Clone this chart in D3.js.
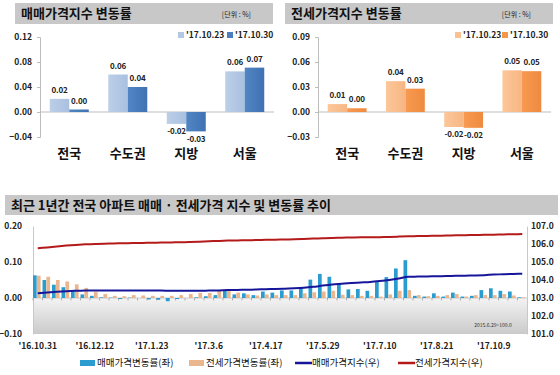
<!DOCTYPE html>
<html><head><meta charset="utf-8">
<script src="https://cdn.jsdelivr.net/npm/d3@7"></script>
<style>
body{margin:0;background:#fff;}
svg{display:block;font-family:"Noto Sans CJK KR","Noto Sans",sans-serif;}
</style></head><body>
<svg id="c" width="560" height="375"></svg>
<script>
// ---------- data: top panels ----------
const regions = ["전국","수도권","지방","서울"];
const seriesNames = ["'17.10.23","'17.10.30"];
const saleRate1023 = [0.021, 0.060, -0.019, 0.065];
const saleRate1030 = [0.004, 0.040, -0.031, 0.071];
const saleLabel1023 = ["0.02","0.06","-0.02","0.06"];
const saleLabel1030 = ["0.00","0.04","-0.03","0.07"];
const jeonseRate1023 = [0.0095, 0.037, -0.018, 0.050];
const jeonseRate1030 = [0.0045, 0.028, -0.019, 0.049];
const jeonseLabel1023 = ["0.01","0.04","-0.02","0.05"];
const jeonseLabel1030 = ["0.00","0.03","-0.02","0.05"];
const saleTicks = [-0.04, 0, 0.04, 0.08, 0.12];
const jeonseTicks = [-0.03, 0, 0.03, 0.06, 0.09];

// ---------- data: bottom panel ----------
const weeks = ["16.10.31","16.11.7","16.11.14","16.11.21","16.11.28","16.12.5","16.12.12","16.12.19","16.12.26",
 "17.1.2","17.1.9","17.1.16","17.1.23","17.1.30","17.2.6","17.2.13","17.2.20","17.2.27","17.3.6","17.3.13","17.3.20",
 "17.3.27","17.4.3","17.4.10","17.4.17","17.4.24","17.5.1","17.5.8","17.5.15","17.5.22","17.5.29","17.6.5","17.6.12",
 "17.6.19","17.6.26","17.7.3","17.7.10","17.7.17","17.7.24","17.7.31","17.8.7","17.8.14","17.8.21","17.8.28","17.9.4",
 "17.9.11","17.9.18","17.9.25","17.10.9","17.10.16","17.10.23","17.10.30"];
const weekTickLabels = ["16.10.31","16.12.12","17.1.23","17.3.6","17.4.17","17.5.29","17.7.10","17.8.21","17.10.9"];
const saleChange = [0.063,0.050,0.037,0.030,0.021,0.010,0.006,0.002,0.001,-0.003,0.001,0.000,-0.004,-0.005,-0.009,-0.003,
 0.000,0.002,0.005,0.008,0.020,0.010,0.013,0.008,0.018,0.015,0.021,0.021,0.029,0.051,0.067,0.059,0.040,0.024,0.025,0.020,
 0.045,0.058,0.082,0.105,0.006,0.004,0.013,0.004,0.015,0.004,0.006,0.022,0.027,0.020,0.018,0.002];
const jeonseChange = [0.062,0.059,0.050,0.046,0.038,0.028,0.017,0.011,0.006,0.005,0.008,0.007,0.006,0.006,0.006,0.008,
 0.011,0.014,0.014,0.020,0.020,0.015,0.010,0.007,0.010,0.008,0.008,0.008,0.013,0.016,0.018,0.020,0.009,0.008,0.006,0.006,
 0.004,0.010,0.020,0.022,0.008,0.005,0.006,0.008,0.011,0.004,0.008,0.008,0.008,0.011,0.007,0.002];
const saleIndex = [103.26,103.31,103.35,103.38,103.40,103.41,103.42,103.42,103.42,103.42,103.42,103.42,103.41,103.41,
 103.40,103.40,103.40,103.40,103.41,103.42,103.44,103.45,103.46,103.47,103.49,103.50,103.52,103.54,103.57,103.62,103.69,
 103.75,103.79,103.83,103.86,103.89,103.94,104.00,104.08,104.18,104.19,104.20,104.21,104.22,104.23,104.24,104.25,104.27,
 104.30,104.32,104.34,104.35];
const jeonseIndex = [105.76,105.81,105.86,105.91,105.95,105.98,106.00,106.02,106.03,106.04,106.05,106.06,106.07,106.08,
 106.09,106.10,106.11,106.13,106.15,106.17,106.19,106.20,106.21,106.22,106.23,106.24,106.25,106.26,106.28,106.30,106.32,
 106.34,106.35,106.36,106.37,106.37,106.38,106.39,106.41,106.43,106.44,106.45,106.46,106.47,106.48,106.49,106.50,106.51,
 106.52,106.53,106.54,106.55];
const leftTicks = [-0.10, 0.00, 0.10, 0.20];
const rightTicks = [101,102,103,104,105,106,107];
const bottomLegend = ["매매가격변동률(좌)","전세가격변동률(좌)","매매가격지수(우)","전세가격지수(우)"];

const svg = d3.select("#c");
const defs = svg.append("defs");

function titleBox(x, y, w, h, text, unit, fs) {
  svg.append("rect").attr("x", x).attr("y", y).attr("width", w).attr("height", h).attr("fill", "#c8c8c8");
  svg.append("text").attr("x", x + 6).attr("y", y + h/2).attr("dy", "0.36em")
    .attr("font-size", fs).attr("font-weight", "bold").attr("fill", "#111").text(text);
  if (unit) svg.append("text").attr("x", x + w - 22).attr("y", y + h/2 + 1).attr("dy", "0.36em")
    .attr("text-anchor", "end").attr("font-size", 7).attr("fill", "#222").text(unit);
}

function panel(o) {
  const x = d3.scaleBand().domain(regions).range(o.xr).paddingInner(0.333).paddingOuter(0.1667);
  const xs = d3.scaleBand().domain([0, 1]).range([0, x.bandwidth()]);
  const y = d3.scaleLinear().domain([o.ticks[0], o.ticks[o.ticks.length - 1]]).range([137, 37]);
  const g = svg.append("g");
  const ax = g.append("g").attr("transform", `translate(${o.xr[0]},0)`)
    .call(d3.axisLeft(y).tickValues(o.ticks).tickSize(3).tickFormat(d3.format(".2f")));
  ax.select(".domain").attr("stroke", "#bdbdbd");
  ax.selectAll(".tick line").attr("stroke", "#bdbdbd");
  ax.selectAll(".tick text").attr("x", -8).attr("font-size", 8.5).attr("font-weight", "bold")
    .attr("fill", "#222").attr("font-family", "'Noto Sans CJK KR',sans-serif");
  g.append("line").attr("x1", o.xr[0]).attr("x2", o.xr[1]).attr("y1", y(0)).attr("y2", y(0)).attr("stroke", "#bdbdbd");
  const sets = [o.a, o.b];
  const labs = [o.la, o.lb];
  sets.forEach((vals, s) => {
    g.selectAll(null).data(vals).enter().append("rect")
      .attr("x", (d, i) => x(regions[i]) + xs(s))
      .attr("width", xs.bandwidth())
      .attr("y", d => y(Math.max(0, d)))
      .attr("height", d => Math.abs(y(d) - y(0)))
      .attr("fill", `url(#${o.grad[s]})`);
    g.selectAll(null).data(vals).enter().append("text")
      .attr("x", (d, i) => x(regions[i]) + xs(s) + xs.bandwidth()/2)
      .attr("y", (d, i) => d >= 0 ? y(d) - 6 : y(d) + (s === 0 ? 10 : 10.5))
      .attr("text-anchor", "middle").attr("font-size", 8).attr("letter-spacing", -0.2)
      .attr("font-weight", "bold").attr("fill", "#222")
      .text((d, i) => labs[s][i]);
  });
  g.selectAll(null).data(regions).enter().append("text")
    .attr("x", d => x(d) + x.bandwidth()/2).attr("y", 153).attr("dy", "0.36em")
    .attr("text-anchor", "middle").attr("font-size", 13).attr("font-weight", "bold").attr("fill", "#111")
    .text(d => d);
  seriesNames.forEach((n, i) => {
    const lx = o.legX[i];
    g.append("rect").attr("x", lx).attr("y", 32).attr("width", 6).attr("height", 6).attr("fill", o.solid[i]);
    g.append("text").attr("x", lx + 8).attr("y", 35).attr("dy", "0.36em").attr("font-size", 8.5)
      .attr("font-weight", "bold").attr("fill", "#222").text(n);
  });
}

function grad(id, c1, c2) {
  const lg = defs.append("linearGradient").attr("id", id).attr("x1", 0).attr("x2", 1).attr("y1", 0).attr("y2", 0);
  lg.append("stop").attr("offset", "0%").attr("stop-color", c1);
  lg.append("stop").attr("offset", "100%").attr("stop-color", c2);
}
grad("gSaleA", "#bccfe7", "#a9c0e0");
grad("gSaleB", "#5185c3", "#3f72b3");
grad("gJA", "#fcc79a", "#f7b683");
grad("gJB", "#f89a52", "#ee8a3e");

titleBox(15, 3, 258, 21, "매매가격지수 변동률", "[단위 : %]", 13);
titleBox(285, 3, 268, 21, "전세가격지수 변동률", "[단위 : %]", 13);

panel({xr: [40, 274], ticks: saleTicks, a: saleRate1023, b: saleRate1030, la: saleLabel1023, lb: saleLabel1030,
  grad: ["gSaleA", "gSaleB"], solid: ["#b4c8e4", "#4a7ebf"], legX: [178, 227]});
panel({xr: [318, 551], ticks: jeonseTicks, a: jeonseRate1023, b: jeonseRate1030, la: jeonseLabel1023, lb: jeonseLabel1030,
  grad: ["gJA", "gJB"], solid: ["#fac090", "#f79646"], legX: [455, 502]});

// ---------- bottom panel ----------
titleBox(5, 195, 553, 20, "최근 1년간 전국 아파트 매매 · 전세가격 지수 및 변동률 추이", null, 13);

const X0 = 33, X1 = 527;
const xb = d3.scaleBand().domain(weeks).range([X0, X1]).padding(0);
const xi = d3.scaleBand().domain(["s", "j"]).range([0, xb.bandwidth() * 0.8]).paddingInner(0.05);
const yl = d3.scaleLinear().domain([-0.10, 0.20]).range([334, 226]);
const yr = d3.scaleLinear().domain([101, 107]).range([334, 226]);

const bg = defs.append("linearGradient").attr("id", "gBg").attr("x1", 0).attr("x2", 0).attr("y1", 0).attr("y2", 1);
bg.append("stop").attr("offset", "0%").attr("stop-color", "#f3f3f3");
bg.append("stop").attr("offset", "100%").attr("stop-color", "#cacaca");
svg.append("rect").attr("x", X0).attr("y", yl(0)).attr("width", X1 - X0).attr("height", yl(-0.10) - yl(0)).attr("fill", "url(#gBg)");

const gl = svg.append("g").attr("transform", `translate(${X0},0)`)
  .call(d3.axisLeft(yl).tickValues(leftTicks).tickSize(0).tickFormat(d3.format(".2f")));
gl.select(".domain").attr("stroke", "#c8c8c8");
gl.selectAll(".tick text").attr("x", -11).attr("font-size", 8.5).attr("font-weight", "bold").attr("fill", "#222")
  .attr("font-family", "'Noto Sans CJK KR',sans-serif");
const gr = svg.append("g").attr("transform", `translate(${X1},0)`)
  .call(d3.axisRight(yr).tickValues(rightTicks).tickSize(0).tickFormat(d3.format(".1f")));
gr.select(".domain").attr("stroke", "#c8c8c8");
gr.selectAll(".tick text").attr("x", 4).attr("font-size", 8.5).attr("font-weight", "bold").attr("fill", "#222")
  .attr("font-family", "'Noto Sans CJK KR',sans-serif");

svg.append("line").attr("x1", X0).attr("x2", X1).attr("y1", yl(0)).attr("y2", yl(0)).attr("stroke", "#c8c8c8");
svg.selectAll(null).data(weeks).enter().append("line")
  .attr("x1", d => xb(d)).attr("x2", d => xb(d)).attr("y1", yl(0)).attr("y2", yl(0) + 2.5).attr("stroke", "#b0b0b0");

svg.selectAll(null).data(saleChange).enter().append("rect")
  .attr("x", (d, i) => xb(weeks[i]) + xi("s")).attr("width", xi.bandwidth())
  .attr("y", d => yl(Math.max(0, d))).attr("height", d => Math.abs(yl(d) - yl(0))).attr("fill", "#2a9ccf");
svg.selectAll(null).data(jeonseChange).enter().append("rect")
  .attr("x", (d, i) => xb(weeks[i]) + xi("j")).attr("width", xi.bandwidth())
  .attr("y", d => yl(Math.max(0, d))).attr("height", d => Math.abs(yl(d) - yl(0))).attr("fill", "#eab68d");

const lineGen = arr => d3.line().x((d, i) => xb(weeks[i]) + xb.bandwidth()/2).y(d => yr(d)).curve(d3.curveMonotoneX)(arr);
svg.append("path").attr("d", lineGen(jeonseIndex)).attr("fill", "none").attr("stroke", "#b41a1a").attr("stroke-width", 2);
svg.append("path").attr("d", lineGen(saleIndex)).attr("fill", "none").attr("stroke", "#16169a").attr("stroke-width", 2);

svg.selectAll(null).data(weekTickLabels).enter().append("text")
  .attr("x", d => xb(d) + xb.bandwidth()/2).attr("y", 346).attr("dy", "0.36em")
  .attr("text-anchor", "middle").attr("font-size", 8.5).attr("font-weight", "bold").attr("fill", "#222")
  .text(d => "'" + d);

svg.append("text").attr("x", 493).attr("y", 327).attr("text-anchor", "middle").attr("font-size", 5)
  .attr("fill", "#333").text("2015.6.29=100.0");

const lg = svg.append("g");
const legItems = [
  {x: 80, type: "rect", color: "#2a9ccf"},
  {x: 189, type: "rect", color: "#eab68d"},
  {x: 295, type: "line", color: "#16169a"},
  {x: 398, type: "line", color: "#b41a1a"}
];
legItems.forEach((it, i) => {
  if (it.type === "rect") lg.append("rect").attr("x", it.x).attr("y", 360).attr("width", 15).attr("height", 6).attr("fill", it.color);
  else lg.append("line").attr("x1", it.x).attr("x2", it.x + 17).attr("y1", 363).attr("y2", 363).attr("stroke", it.color).attr("stroke-width", 2.5);
  lg.append("text").attr("x", it.x + 17).attr("y", 363).attr("dy", "0.36em").attr("font-size", 9.5)
    .attr("fill", "#111").text(bottomLegend[i]);
});
</script>
</body></html>
